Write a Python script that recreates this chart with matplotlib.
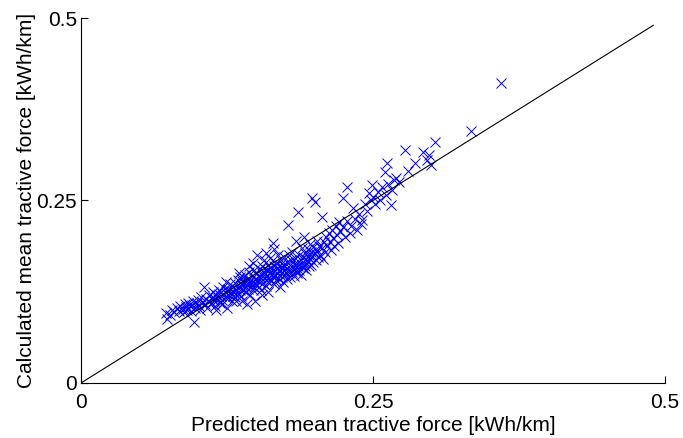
import numpy as np
import matplotlib
matplotlib.use('Agg')
import matplotlib.pyplot as plt

# 读取的散点数据 (预测值, 计算值)
pred = [0.073, 0.074, 0.076, 0.078, 0.080, 0.082, 0.084, 0.085, 0.087, 0.088, 0.089, 0.090,
        0.091, 0.092, 0.093, 0.094, 0.095, 0.096, 0.097, 0.098, 0.099, 0.100, 0.101, 0.102,
        0.103, 0.104, 0.105, 0.106, 0.107, 0.108, 0.109, 0.110,
        0.111, 0.112, 0.113, 0.114, 0.115, 0.116, 0.117, 0.118, 0.119, 0.120, 0.120, 0.121,
        0.122, 0.123, 0.124, 0.125, 0.125, 0.126, 0.127, 0.128, 0.129, 0.129, 0.130, 0.130,
        0.121, 0.116, 0.124, 0.118, 0.126, 0.113,
        0.131, 0.132, 0.132, 0.133, 0.134, 0.134, 0.135, 0.136, 0.136, 0.137, 0.138, 0.138,
        0.139, 0.140, 0.140, 0.141, 0.141, 0.142, 0.143, 0.143, 0.144, 0.145, 0.145, 0.146,
        0.146, 0.147, 0.147, 0.148, 0.148, 0.149, 0.149, 0.150, 0.150, 0.138, 0.142, 0.135,
        0.144, 0.139, 0.133, 0.147,
        0.151, 0.151, 0.152, 0.152, 0.153, 0.153, 0.154, 0.154, 0.155, 0.155, 0.156, 0.156,
        0.157, 0.157, 0.158, 0.158, 0.159, 0.159, 0.160, 0.160, 0.161, 0.161, 0.162, 0.162,
        0.163, 0.163, 0.164, 0.164, 0.165, 0.165, 0.166, 0.166, 0.167, 0.167, 0.168, 0.168,
        0.169, 0.169, 0.170, 0.170, 0.170, 0.160, 0.165, 0.158, 0.155,
        0.171, 0.171, 0.172, 0.172, 0.173, 0.173, 0.174, 0.174, 0.175, 0.175, 0.176, 0.176,
        0.177, 0.177, 0.178, 0.178, 0.179, 0.179, 0.180, 0.180, 0.181, 0.181, 0.182, 0.182,
        0.183, 0.183, 0.184, 0.184, 0.185, 0.185, 0.186, 0.186, 0.187, 0.187, 0.188, 0.188,
        0.189, 0.189, 0.190, 0.190,
        0.191, 0.191, 0.192, 0.192, 0.193, 0.193, 0.194, 0.194, 0.195, 0.195, 0.196, 0.196,
        0.197, 0.197, 0.198, 0.198, 0.199, 0.199, 0.200, 0.200, 0.201, 0.202, 0.202, 0.203,
        0.204, 0.205, 0.206, 0.206, 0.207, 0.208, 0.209, 0.210,
        0.211, 0.212, 0.213, 0.214, 0.215, 0.216, 0.217, 0.218, 0.219, 0.220, 0.221, 0.222,
        0.224, 0.224, 0.226, 0.228, 0.228, 0.230, 0.231, 0.233, 0.235, 0.236, 0.238, 0.240,
        0.241,
        0.243, 0.245, 0.247, 0.248, 0.249, 0.250, 0.252, 0.254, 0.256, 0.258, 0.260, 0.261,
        0.262, 0.263, 0.265, 0.266, 0.268, 0.270, 0.272, 0.277, 0.280, 0.286, 0.293, 0.296,
        0.300, 0.303, 0.298,
        0.334, 0.360]

calc = [0.096, 0.088, 0.093, 0.100, 0.097, 0.103, 0.099, 0.106, 0.101, 0.097, 0.108, 0.104,
        0.100, 0.110, 0.105, 0.098, 0.107, 0.112, 0.084, 0.103, 0.109, 0.114, 0.106, 0.100,
        0.118, 0.111, 0.131, 0.108, 0.115, 0.103, 0.112, 0.120,
        0.109, 0.117, 0.124, 0.113, 0.106, 0.121, 0.115, 0.128, 0.110, 0.119, 0.125, 0.114,
        0.132, 0.118, 0.123, 0.103, 0.127, 0.116, 0.121, 0.135, 0.112, 0.126, 0.119, 0.131,
        0.108, 0.100, 0.138, 0.122, 0.129, 0.118,
        0.124, 0.137, 0.118, 0.129, 0.141, 0.122, 0.132, 0.127, 0.145, 0.119, 0.134, 0.140,
        0.128, 0.137, 0.148, 0.124, 0.132, 0.143, 0.129, 0.136, 0.152, 0.121, 0.140, 0.133,
        0.146, 0.128, 0.138, 0.155, 0.131, 0.143, 0.112, 0.136, 0.149, 0.113, 0.108, 0.150,
        0.160, 0.145, 0.113, 0.164,
        0.141, 0.175, 0.131, 0.147, 0.139, 0.156, 0.144, 0.127, 0.150, 0.160, 0.137, 0.146,
        0.152, 0.168, 0.141, 0.133, 0.155, 0.147, 0.162, 0.138, 0.150, 0.144, 0.157, 0.171,
        0.140, 0.152, 0.192, 0.147, 0.160, 0.135, 0.153, 0.146, 0.165, 0.141, 0.158, 0.150,
        0.175, 0.144, 0.155, 0.162, 0.132, 0.124, 0.183, 0.178, 0.120,
        0.150, 0.168, 0.145, 0.157, 0.162, 0.139, 0.153, 0.172, 0.148, 0.160, 0.166, 0.143,
        0.216, 0.155, 0.150, 0.175, 0.161, 0.145, 0.169, 0.156, 0.152, 0.180, 0.163, 0.147,
        0.158, 0.171, 0.154, 0.195, 0.165, 0.150, 0.234, 0.160, 0.176, 0.155, 0.168, 0.148,
        0.185, 0.162, 0.172, 0.157,
        0.165, 0.200, 0.178, 0.160, 0.170, 0.155, 0.183, 0.166, 0.175, 0.160, 0.190, 0.170,
        0.180, 0.162, 0.253, 0.174, 0.186, 0.166, 0.248, 0.178, 0.169, 0.195, 0.182, 0.173,
        0.188, 0.176, 0.227, 0.185, 0.170, 0.193, 0.180, 0.200,
        0.187, 0.205, 0.193, 0.182, 0.210, 0.198, 0.188, 0.215, 0.203, 0.192, 0.220, 0.208,
        0.253, 0.214, 0.200, 0.268, 0.222, 0.205, 0.215, 0.240, 0.225, 0.210, 0.232, 0.218,
        0.223,
        0.245, 0.235, 0.260, 0.250, 0.271, 0.255, 0.245, 0.262, 0.250, 0.268, 0.289, 0.258,
        0.301, 0.272, 0.244, 0.265, 0.278, 0.281, 0.275, 0.319, 0.290, 0.301, 0.316, 0.305,
        0.299, 0.330, 0.312,
        0.345, 0.411]

# 对角参考线
ref_line = [0, 0.49]

ticks = [0, 0.25, 0.5]
tick_labels = ['0', '0.25', '0.5']


def main():
    plt.rcParams['font.family'] = ['Liberation Sans', 'DejaVu Sans']
    fig = plt.figure(figsize=(6.83, 4.38), dpi=100)
    ax = fig.add_axes([0.1186, 0.1256, 0.855, 0.8333])

    ax.plot(pred, calc, 'x', color='blue', markersize=7, markeredgewidth=0.7)
    ax.plot(ref_line, ref_line, color='black', linewidth=0.8)

    ax.set_xlim(0, 0.5)
    ax.set_ylim(0, 0.5)
    ax.set_xticks(ticks)
    ax.set_xticklabels(tick_labels)
    ax.set_yticks(ticks)
    ax.set_yticklabels(tick_labels)
    ax.tick_params(direction='in', length=5, width=0.8, labelsize=15)
    ax.tick_params(axis='x', pad=7)
    ax.tick_params(axis='y', pad=3)
    ax.spines['top'].set_visible(False)
    ax.spines['right'].set_visible(False)
    ax.set_xlabel('Predicted mean tractive force [kWh/km]', fontsize=15, labelpad=3)
    ax.set_ylabel('Calculated mean tractive force [kWh/km]', fontsize=15, labelpad=0)

    fig.savefig('out.png', dpi=100)


if __name__ == '__main__':
    main()
